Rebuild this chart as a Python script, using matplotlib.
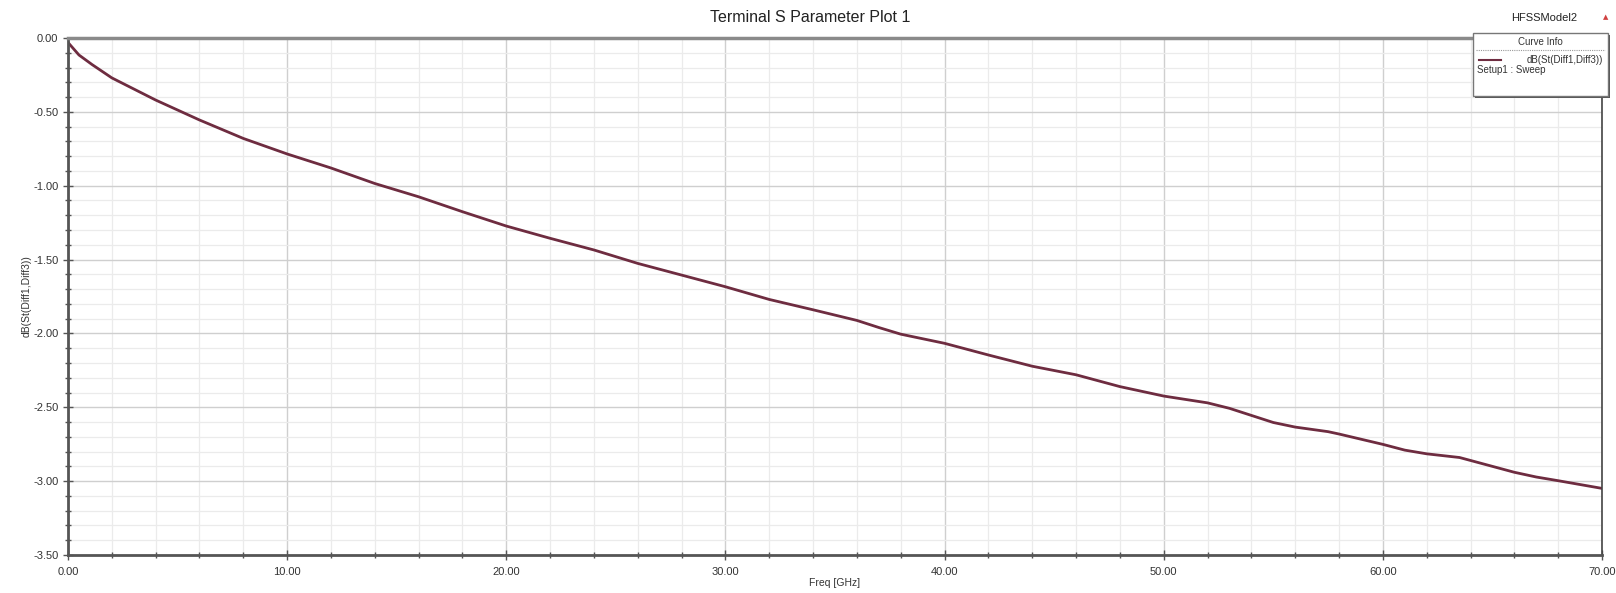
import numpy as np
import matplotlib
matplotlib.use('Agg')
import matplotlib.pyplot as plt
from matplotlib.ticker import MultipleLocator, FormatStrFormatter
from matplotlib.patches import Rectangle
from matplotlib.lines import Line2D

plt.rcParams['font.family'] = ['Liberation Sans', 'DejaVu Sans']

# values
freq_ghz = [0, 0.5, 1.1, 2, 4, 6, 8, 10, 12, 14, 16, 18, 20, 22, 24, 26, 28, 30,
            32, 34, 36, 37, 38, 40, 42, 44, 46, 48, 50, 52, 53, 54, 55, 56, 57.5,
            58, 60, 61, 62, 63.5, 64, 66, 67, 68, 70]
s_db = [-0.03, -0.115, -0.18, -0.27, -0.42, -0.555, -0.68, -0.785, -0.88, -0.985,
        -1.075, -1.176, -1.273, -1.356, -1.435, -1.526, -1.605, -1.684, -1.77,
        -1.84, -1.912, -1.96, -2.005, -2.067, -2.146, -2.222, -2.28, -2.36,
        -2.424, -2.47, -2.507, -2.555, -2.603, -2.634, -2.665, -2.681, -2.751,
        -2.79, -2.815, -2.84, -2.86, -2.94, -2.972, -2.997, -3.049]

W, H = 1616, 593
fig = plt.figure(figsize=(W / 100, H / 100), dpi=100)
ax = fig.add_axes([68 / W, 1 - 555 / H, (1602 - 68) / W, (555 - 38) / H])

ax.plot(freq_ghz, s_db, color='#6e2c40', lw=2.0, solid_capstyle='round',
        solid_joinstyle='round')

ax.set_xlim(0, 70)
ax.set_ylim(-3.5, 0)
ax.xaxis.set_major_locator(MultipleLocator(10))
ax.xaxis.set_minor_locator(MultipleLocator(2))
ax.yaxis.set_major_locator(MultipleLocator(0.5))
ax.yaxis.set_minor_locator(MultipleLocator(0.1))
ax.xaxis.set_major_formatter(FormatStrFormatter('%.2f'))
ax.yaxis.set_major_formatter(FormatStrFormatter('%.2f'))

ax.grid(which='major', color='#cfcfcf', lw=1.0)
ax.grid(which='minor', color='#ebebeb', lw=0.9)
ax.set_axisbelow(True)

ax.tick_params(which='both', direction='inout', colors='#555555', labelcolor='#333333',
               labelsize=8)
ax.tick_params(which='major', length=7, width=1)
ax.tick_params(which='minor', length=5, width=1)
ax.tick_params(axis='x', pad=5)

for side in ['left', 'bottom']:
    ax.spines[side].set_color('#555555')
    ax.spines[side].set_linewidth(2)
ax.spines['top'].set_color('#8a8a8a')
ax.spines['top'].set_linewidth(2.5)
ax.spines['right'].set_color('#444444')
ax.spines['right'].set_linewidth(1.2)

ax.set_xlabel('Freq [GHz]', fontsize=7.5, color='#333333', labelpad=1)
ax.set_ylabel('dB(St(Diff1,Diff3))', fontsize=7.5, color='#333333', labelpad=1)

fig.text(810 / W, 1 - 18 / H, 'Terminal S Parameter Plot 1', ha='center', va='center',
         fontsize=11.5, color='#222222')
fig.text(1544 / W, 1 - 18 / H, 'HFSSModel2', ha='center', va='center',
         fontsize=8, color='#222222')
fig.text(1606 / W, 1 - 17 / H, '\u25b2', ha='center', va='center',
         fontsize=5, color='#d04040', family='DejaVu Sans')

# curve info box
bx0, by0, bx1, by1 = 1473, 33, 1608, 96
fig.patches.append(Rectangle((bx0 / W + 2 / W, 1 - (by1 + 2) / H), (bx1 - bx0) / W,
                             (by1 - by0) / H, transform=fig.transFigure,
                             facecolor='#555555', edgecolor='none', zorder=5))
fig.patches.append(Rectangle((bx0 / W, 1 - by1 / H), (bx1 - bx0) / W, (by1 - by0) / H,
                             transform=fig.transFigure, facecolor='white',
                             edgecolor='#777777', lw=1, zorder=6))
fig.text((bx0 + bx1) / 2 / W, 1 - 42 / H, 'Curve Info', ha='center', va='center',
         fontsize=7, color='#333333', zorder=7)
fig.lines.append(Line2D([(bx0 + 3) / W, (bx1 - 3) / W], [1 - 50 / H, 1 - 50 / H],
                        transform=fig.transFigure, color='#999999', lw=0.8,
                        ls=(0, (1, 1)), zorder=7))
fig.lines.append(Line2D([1479 / W, 1501 / W], [1 - 60 / H, 1 - 60 / H],
                        transform=fig.transFigure, color='#6e2c40', lw=1.5, zorder=7))
fig.text(1603 / W, 1 - 60 / H, 'dB(St(Diff1,Diff3))', ha='right', va='center',
         fontsize=7, color='#333333', zorder=7)
fig.text(1477 / W, 1 - 70 / H, 'Setup1 : Sweep', ha='left', va='center',
         fontsize=7, color='#333333', zorder=7)

fig.savefig('out.png', dpi=100)
